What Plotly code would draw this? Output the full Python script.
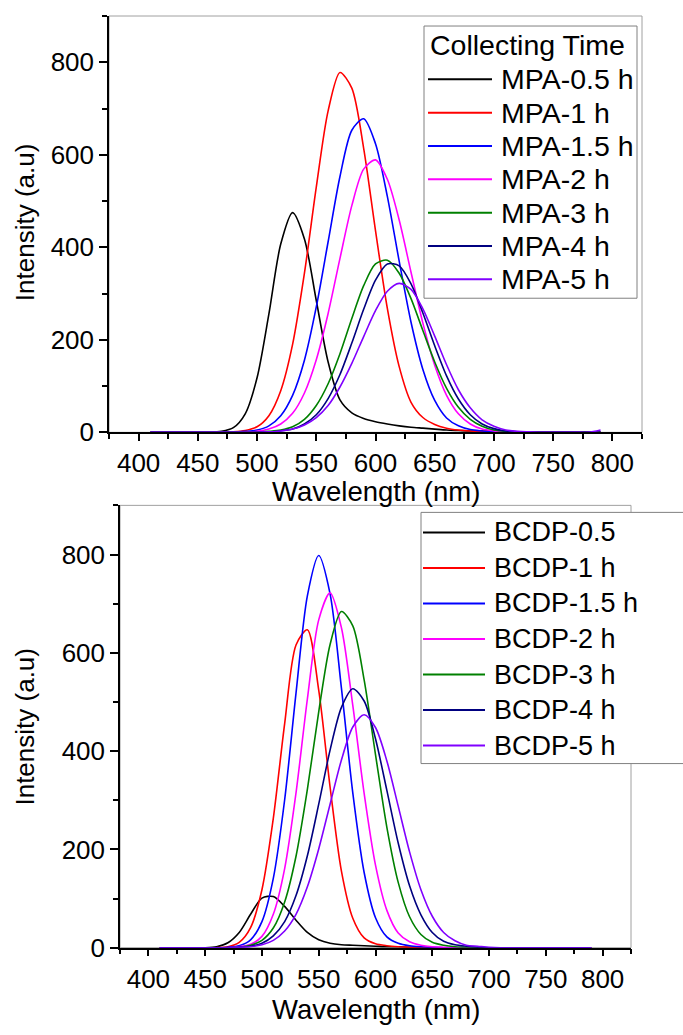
import plotly.graph_objects as go

W, H = 683, 1035
# the photographed page comes out 16px taller than the figure and is fitted back
# into 1035px, so vertical positions are pre-compensated with this factor
SY = 1051 / 1035
FONT = "Liberation Sans, Arial, sans-serif"

# ---------------- data ----------------
wavelength = list(range(410, 791, 10))

mpa_05 = [0, 0, 0, 0, 0, 0, 2, 10, 40, 118, 256, 407, 475, 418, 285, 152, 70, 42, 30, 23,
          18, 14, 11, 9, 7, 5, 4, 3, 3, 2, 2, 1, 1, 0, 0, 0, 0, 0, 0]
mpa_1 = [0, 0, 0, 0, 0, 0, 0, 1, 4, 12, 36, 90, 190, 344, 530, 695, 778, 744, 614, 436,
         268, 142, 65, 32, 17, 9, 5, 3, 2, 1, 0, 0, 0, 0, 0, 0, 0, 0, 0]
mpa_15 = [0, 0, 0, 0, 0, 0, 0, 0, 2, 5, 14, 36, 80, 156, 271, 412, 553, 653, 678, 624,
          510, 370, 238, 136, 69, 31, 14, 6, 3, 1, 0, 0, 0, 0, 0, 0, 0, 0, 0]
mpa_2 = [0, 0, 0, 0, 0, 0, 0, 0, 1, 2, 7, 18, 41, 85, 157, 257, 376, 490, 569, 589,
         547, 459, 346, 236, 145, 80, 40, 18, 7, 3, 1, 0, 0, 0, 0, 0, 0, 0, 0]
mpa_3 = [0, 0, 0, 0, 0, 0, 0, 0, 0, 0, 2, 5, 12, 28, 58, 105, 170, 246, 317, 364,
         372, 344, 289, 220, 152, 95, 54, 28, 13, 5, 2, 1, 0, 0, 0, 0, 0, 0, 0]
mpa_4 = [0, 0, 0, 0, 0, 0, 0, 0, 0, 0, 1, 3, 7, 18, 38, 73, 125, 193, 266, 329,
         364, 360, 321, 258, 187, 122, 72, 38, 18, 8, 3, 1, 0, 0, 0, 0, 0, 0, 0]
mpa_5 = [0, 0, 0, 0, 0, 0, 0, 0, 0, 0, 1, 3, 7, 16, 32, 58, 98, 149, 207, 263,
         305, 322, 309, 267, 208, 146, 92, 53, 27, 13, 5, 2, 1, 0, 0, 0, 0, 0, 5]

bcdp_05 = [0, 0, 0, 0, 0, 2, 10, 31, 68, 101, 104, 84, 56, 31, 16, 9, 6, 5, 4, 3,
           2, 2, 1, 1, 0, 0, 0, 0, 0, 0, 0, 0, 0, 0, 0, 0, 0, 0, 0]
bcdp_1 = [0, 0, 0, 0, 0, 0, 2, 11, 41, 118, 263, 456, 616, 647, 524, 327, 156, 60, 20, 8,
          4, 2, 1, 0, 0, 0, 0, 0, 0, 0, 0, 0, 0, 0, 0, 0, 0, 0, 0]
bcdp_15 = [0, 0, 0, 0, 0, 0, 1, 4, 16, 53, 141, 301, 518, 716, 798, 720, 528, 315, 153, 61,
           22, 9, 4, 2, 1, 0, 0, 0, 0, 0, 0, 0, 0, 0, 0, 0, 0, 0, 0]
bcdp_2 = [0, 0, 0, 0, 0, 0, 0, 2, 7, 23, 68, 161, 315, 506, 667, 722, 651, 493, 314, 168,
          76, 30, 12, 5, 2, 1, 0, 0, 0, 0, 0, 0, 0, 0, 0, 0, 0, 0, 0]
bcdp_3 = [0, 0, 0, 0, 0, 0, 0, 1, 5, 15, 40, 93, 186, 322, 480, 617, 684, 655, 545, 393,
          245, 133, 63, 27, 11, 5, 2, 1, 0, 0, 0, 0, 0, 0, 0, 0, 0, 0, 0]
bcdp_4 = [0, 0, 0, 0, 0, 0, 0, 1, 3, 9, 24, 53, 106, 187, 292, 402, 489, 527, 502, 425,
          320, 213, 126, 67, 31, 13, 6, 3, 1, 0, 0, 0, 0, 0, 0, 0, 0, 0, 0]
bcdp_5 = [0, 0, 0, 0, 0, 0, 0, 1, 2, 6, 15, 34, 68, 124, 201, 292, 382, 449, 474, 448,
          380, 288, 195, 118, 64, 31, 14, 5, 3, 1, 0, 0, 0, 0, 0, 0, 0, 0, 0]

mpa_names = ["MPA-0.5 h", "MPA-1 h", "MPA-1.5 h", "MPA-2 h", "MPA-3 h", "MPA-4 h", "MPA-5 h"]
bcdp_names = ["BCDP-0.5", "BCDP-1 h", "BCDP-1.5 h", "BCDP-2 h", "BCDP-3 h", "BCDP-4 h", "BCDP-5 h"]
legend_title = "Collecting Time"
colors = ["#000000", "#FF0000", "#0000FF", "#FF00FF", "#008000", "#000080", "#8000FF"]

x_ticks = [400, 450, 500, 550, 600, 650, 700, 750, 800]
x_minor = [375, 425, 475, 525, 575, 625, 675, 725, 775, 825]
y_ticks = [0, 200, 400, 600, 800]
y_minor = [100, 300, 500, 700, 900]

mpa_series = [mpa_05, mpa_1, mpa_15, mpa_2, mpa_3, mpa_4, mpa_5]
bcdp_series = [bcdp_05, bcdp_1, bcdp_15, bcdp_2, bcdp_3, bcdp_4, bcdp_5]
for s in mpa_series + bcdp_series:
    assert len(s) == len(wavelength)


def px(x):
    return x / W


def py(y):
    return 1 - min(y * SY, H) / H


fig = go.Figure()
for name, ys, c in zip(mpa_names, mpa_series, colors):
    fig.add_trace(go.Scatter(x=wavelength, y=ys, name=name, mode="lines",
                             line=dict(color=c, width=1.6, shape="spline", smoothing=0.8),
                             xaxis="x", yaxis="y", showlegend=False))
for name, ys, c in zip(bcdp_names, bcdp_series, colors):
    fig.add_trace(go.Scatter(x=wavelength, y=ys, name=name, mode="lines",
                             line=dict(color=c, width=1.6, shape="spline", smoothing=0.8),
                             xaxis="x2", yaxis="y2", showlegend=False))

common = dict(showline=True, linecolor="black", linewidth=1.5, ticks="outside",
              ticklen=8, tickwidth=1.5, tickcolor="black", showgrid=False,
              zeroline=False, tickfont=dict(family=FONT, size=26, color="black"))
xcommon = dict(common, range=[375, 825], tickmode="array", tickvals=x_ticks,
               ticklen=7,
               minor=dict(ticks="outside", ticklen=4.5, tickwidth=1.5,
                          tickcolor="black", tickmode="array", tickvals=x_minor))
ycommon = dict(common, range=[0, 900], tickmode="array", tickvals=y_ticks,
               minor=dict(ticks="outside", ticklen=5, tickwidth=1.5,
                          tickcolor="black", tickmode="array", tickvals=y_minor))

fig.update_layout(
    width=W, height=H, margin=dict(l=0, r=0, t=0, b=0),
    paper_bgcolor="white", plot_bgcolor="white",
    font=dict(family=FONT, color="black"),
    xaxis=dict(xcommon, domain=[px(109), px(642)], anchor="y"),
    yaxis=dict(ycommon, domain=[py(432), py(16)], anchor="x"),
    xaxis2=dict(xcommon, domain=[px(120), px(631)], anchor="y2"),
    yaxis2=dict(ycommon, domain=[py(947), py(505)], anchor="x2"),
)

shapes = []
annotations = []
# light frames (top/right)
for xr, yr in [("x domain", "y domain"), ("x2 domain", "y2 domain")]:
    shapes.append(dict(type="rect", xref=xr, yref=yr, x0=0, x1=1, y0=0, y1=1,
                       line=dict(color="#a0a0a0", width=1), layer="below"))

# axis titles
annotations.append(dict(text="Wavelength (nm)", x=px(376), y=py(491), xref="paper", yref="paper",
                        xanchor="center", yanchor="middle", showarrow=False,
                        font=dict(family=FONT, size=27.5, color="black")))
annotations.append(dict(text="Wavelength (nm)", x=px(376), y=0, xref="paper", yref="paper",
                        xanchor="center", yanchor="bottom", yshift=-7, showarrow=False,
                        font=dict(family=FONT, size=27.5, color="black")))
for (cx, cy) in [(25, 222), (25, 726)]:
    annotations.append(dict(text="Intensity (a.u)", x=px(cx), y=py(cy), xref="paper", yref="paper",
                            xanchor="center", yanchor="middle", showarrow=False, textangle=-90,
                            font=dict(family=FONT, size=26, color="black")))

# legend 1 (MPA)
shapes.append(dict(type="rect", xref="paper", yref="paper", x0=px(424), x1=px(637),
                   y0=py(298), y1=py(26), fillcolor="white",
                   line=dict(color="#808080", width=1), layer="above"))
annotations.append(dict(text=legend_title, x=px(428), y=py(45), xref="paper", yref="paper",
                        xanchor="left", yanchor="middle", showarrow=False,
                        font=dict(family=FONT, size=28.5, color="black")))
for i, (name, c) in enumerate(zip(mpa_names, colors)):
    yc = 79.3 + 33.3 * i
    shapes.append(dict(type="line", xref="paper", yref="paper", x0=px(428), x1=px(492),
                       y0=py(yc), y1=py(yc), line=dict(color=c, width=2), layer="above"))
    annotations.append(dict(text=name, x=px(499), y=py(yc), xref="paper", yref="paper",
                            xanchor="left", yanchor="middle", showarrow=False,
                            font=dict(family=FONT, size=28.5, color="black")))

# legend 2 (BCDP) - runs off the right edge of the picture
shapes.append(dict(type="rect", xref="paper", yref="paper", x0=px(421), x1=1.05,
                   y0=py(763), y1=py(512), fillcolor="white",
                   line=dict(color="#808080", width=1), layer="above"))
for i, (name, c) in enumerate(zip(bcdp_names, colors)):
    yc = 532 + 35.5 * i
    shapes.append(dict(type="line", xref="paper", yref="paper", x0=px(423), x1=px(485),
                       y0=py(yc), y1=py(yc), line=dict(color=c, width=2), layer="above"))
    annotations.append(dict(text=name, x=px(492), y=py(yc), xref="paper", yref="paper",
                            xanchor="left", yanchor="middle", showarrow=False,
                            font=dict(family=FONT, size=27, color="black")))

fig.update_layout(shapes=shapes, annotations=annotations)
fig.write_html(
    "out.html",
    config={"displayModeBar": False},
    post_script="document.body.style.margin='0';document.body.style.overflow='hidden';",
)
